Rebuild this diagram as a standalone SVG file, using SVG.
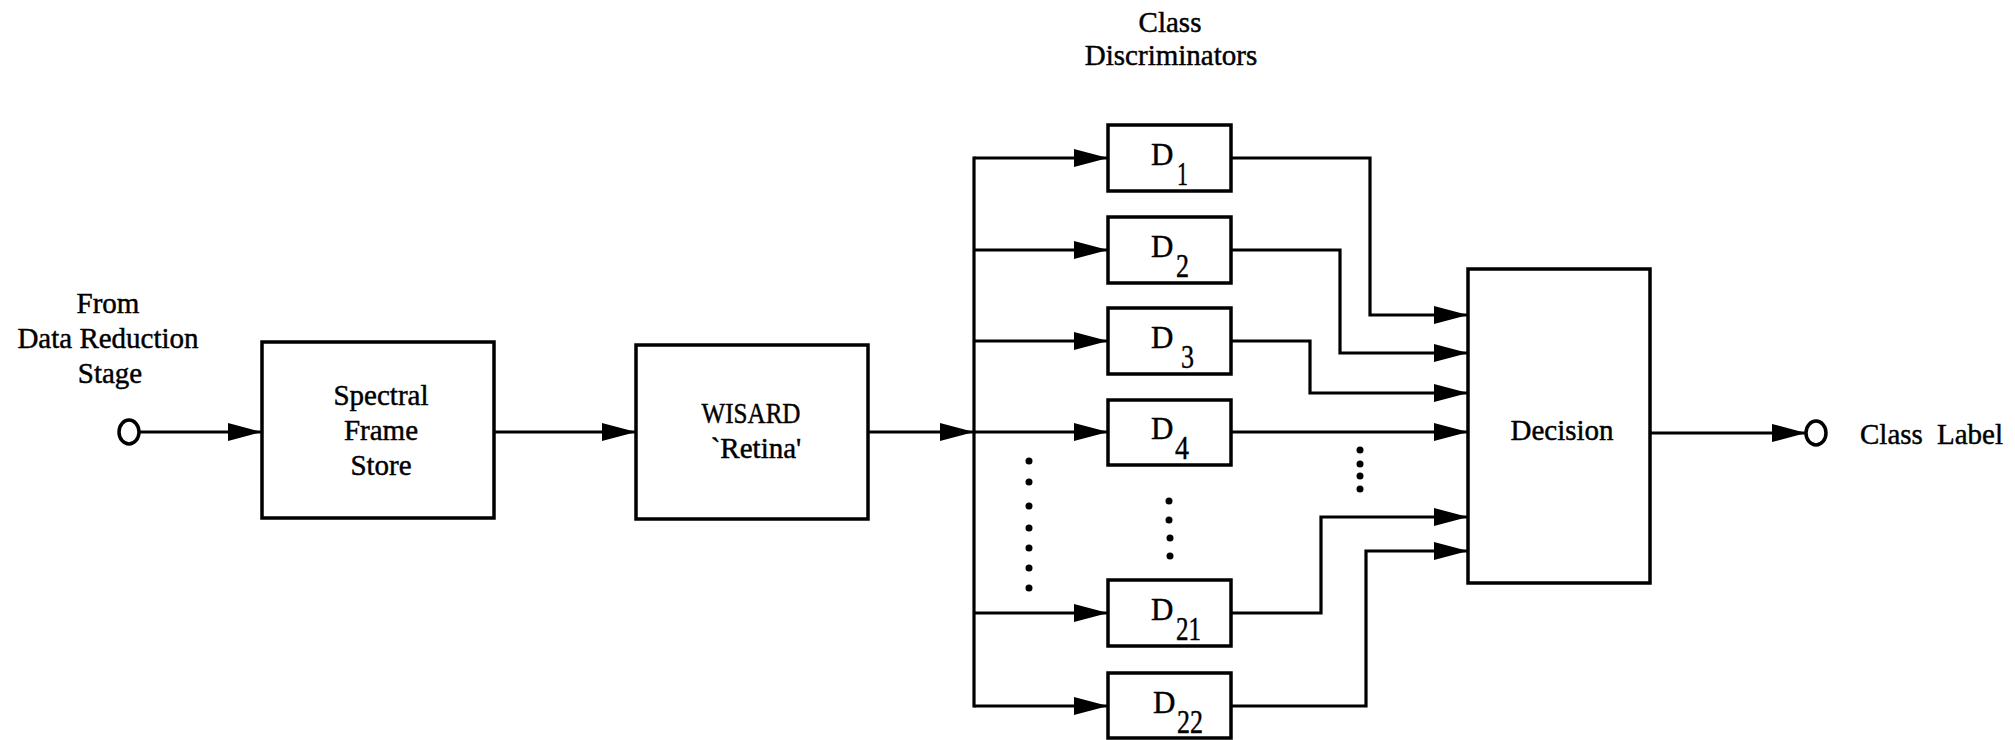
<svg xmlns="http://www.w3.org/2000/svg" width="2015" height="740" viewBox="0 0 2015 740">
  <style>
    .box { fill: #ffffff; stroke: #000000; stroke-width: 3.5; }
    .wire { fill: none; stroke: #000000; stroke-width: 3.2; stroke-linejoin: miter; }
    .term { fill: #ffffff; stroke: #000000; stroke-width: 3.5; }
    .dot { fill: #000000; }
    .t { font-family: "Liberation Serif", "DejaVu Serif", serif; fill: #000000; stroke: #000000; stroke-width: 0.45; }
    .lbl { font-size: 29px; text-anchor: middle; }
    .dname { font-size: 31px; }
    .dsub { font-size: 34px; }
  </style>
  <defs>
    <marker id="arrow" viewBox="0 0 34 18" refX="34" refY="9" markerWidth="34" markerHeight="18" markerUnits="userSpaceOnUse" orient="auto">
      <path d="M0,0 L34,9 L0,18 z" fill="#000000"/>
    </marker>
  </defs>

  <rect width="2015" height="740" fill="#ffffff"/>

  <!-- connectors -->
  <g id="connectors">
    <line class="wire" x1="139" y1="432" x2="262" y2="432" marker-end="url(#arrow)"/>
    <line class="wire" x1="494" y1="432" x2="636" y2="432" marker-end="url(#arrow)"/>
    <line class="wire" x1="868" y1="432" x2="974" y2="432" marker-end="url(#arrow)"/>
    <!-- distribution bus -->
    <line class="wire" x1="974" y1="156.5" x2="974" y2="707.5"/>
    <line class="wire" x1="974" y1="158" x2="1108" y2="158" marker-end="url(#arrow)"/>
    <line class="wire" x1="974" y1="250" x2="1108" y2="250" marker-end="url(#arrow)"/>
    <line class="wire" x1="974" y1="341" x2="1108" y2="341" marker-end="url(#arrow)"/>
    <line class="wire" x1="974" y1="432" x2="1108" y2="432" marker-end="url(#arrow)"/>
    <line class="wire" x1="974" y1="613" x2="1108" y2="613" marker-end="url(#arrow)"/>
    <line class="wire" x1="974" y1="706" x2="1108" y2="706" marker-end="url(#arrow)"/>
    <!-- discriminator outputs -->
    <polyline class="wire" points="1231,158 1370,158 1370,315 1468,315" marker-end="url(#arrow)"/>
    <polyline class="wire" points="1231,250 1340,250 1340,353 1468,353" marker-end="url(#arrow)"/>
    <polyline class="wire" points="1231,341 1310,341 1310,393 1468,393" marker-end="url(#arrow)"/>
    <line class="wire" x1="1231" y1="432" x2="1468" y2="432" marker-end="url(#arrow)"/>
    <polyline class="wire" points="1231,613 1321,613 1321,517 1468,517" marker-end="url(#arrow)"/>
    <polyline class="wire" points="1231,706 1366,706 1366,551 1468,551" marker-end="url(#arrow)"/>
    <!-- decision output -->
    <line class="wire" x1="1650" y1="433" x2="1806" y2="433" marker-end="url(#arrow)"/>
  </g>

  <!-- input terminal -->
  <g id="input">
    <ellipse class="term" cx="129" cy="432" rx="10" ry="12"/>
    <text class="t lbl" x="108" y="313">From</text>
    <text class="t lbl" x="108" y="348">Data Reduction</text>
    <text class="t lbl" x="110" y="383">Stage</text>
  </g>

  <g id="spectral-frame-store">
    <rect class="box" x="262" y="342" width="232" height="176"/>
    <text class="t lbl" x="381" y="405">Spectral</text>
    <text class="t lbl" x="381" y="440">Frame</text>
    <text class="t lbl" x="381" y="475">Store</text>
  </g>

  <g id="wisard-retina">
    <rect class="box" x="636" y="345" width="232" height="174"/>
    <text class="t lbl" x="751" y="423" textLength="99" lengthAdjust="spacingAndGlyphs">WISARD</text>
    <text class="t lbl" x="756" y="458">`Retina'</text>
  </g>

  <g id="discriminators-title">
    <text class="t lbl" x="1170" y="32">Class</text>
    <text class="t lbl" x="1171" y="65">Discriminators</text>
  </g>

  <g id="d1">
    <rect class="box" x="1108" y="125" width="123" height="66"/>
    <text class="t dname" x="1151" y="165">D</text>
    <text class="t dsub" x="1177" y="185" textLength="11" lengthAdjust="spacingAndGlyphs">1</text>
  </g>
  <g id="d2">
    <rect class="box" x="1108" y="217" width="123" height="66"/>
    <text class="t dname" x="1151" y="257">D</text>
    <text class="t dsub" x="1176" y="277" textLength="13" lengthAdjust="spacingAndGlyphs">2</text>
  </g>
  <g id="d3">
    <rect class="box" x="1108" y="308" width="123" height="66"/>
    <text class="t dname" x="1151" y="348">D</text>
    <text class="t dsub" x="1181" y="368" textLength="13" lengthAdjust="spacingAndGlyphs">3</text>
  </g>
  <g id="d4">
    <rect class="box" x="1108" y="400" width="123" height="65"/>
    <text class="t dname" x="1151" y="439">D</text>
    <text class="t dsub" x="1175" y="459" textLength="14" lengthAdjust="spacingAndGlyphs">4</text>
  </g>
  <g id="d21">
    <rect class="box" x="1108" y="580" width="123" height="66"/>
    <text class="t dname" x="1151" y="620">D</text>
    <text class="t dsub" x="1176" y="640" textLength="25" lengthAdjust="spacingAndGlyphs">21</text>
  </g>
  <g id="d22">
    <rect class="box" x="1108" y="673" width="123" height="65"/>
    <text class="t dname" x="1153" y="713">D</text>
    <text class="t dsub" x="1177" y="733" textLength="26" lengthAdjust="spacingAndGlyphs">22</text>
  </g>

  <!-- ellipsis dots for omitted discriminators -->
  <g id="ellipses">
    <circle class="dot" cx="1029" cy="461" r="3.5"/>
    <circle class="dot" cx="1029" cy="482" r="3.5"/>
    <circle class="dot" cx="1029" cy="506" r="3.5"/>
    <circle class="dot" cx="1029" cy="528" r="3.5"/>
    <circle class="dot" cx="1029" cy="548" r="3.5"/>
    <circle class="dot" cx="1029" cy="568" r="3.5"/>
    <circle class="dot" cx="1029" cy="588" r="3.5"/>
    <circle class="dot" cx="1169" cy="501" r="3.5"/>
    <circle class="dot" cx="1169" cy="520" r="3.5"/>
    <circle class="dot" cx="1170" cy="538" r="3.5"/>
    <circle class="dot" cx="1170" cy="556" r="3.5"/>
    <circle class="dot" cx="1360" cy="450" r="3.5"/>
    <circle class="dot" cx="1360" cy="464" r="3.5"/>
    <circle class="dot" cx="1360" cy="476" r="3.5"/>
    <circle class="dot" cx="1360" cy="489" r="3.5"/>
  </g>

  <g id="decision">
    <rect class="box" x="1468" y="269" width="182" height="314"/>
    <text class="t lbl" x="1562" y="440">Decision</text>
  </g>

  <g id="output">
    <ellipse class="term" cx="1816" cy="433" rx="10" ry="12"/>
    <text class="t" x="1860" y="444" font-size="29">Class</text>
    <text class="t" x="2003" y="444" font-size="29" text-anchor="end">Label</text>
  </g>
</svg>
